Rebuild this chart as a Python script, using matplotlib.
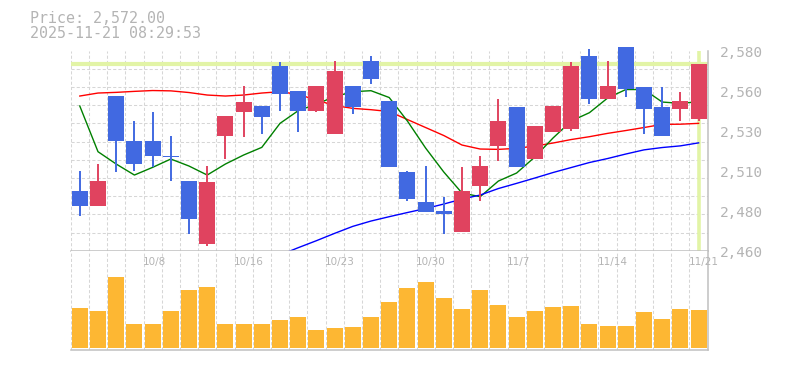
import numpy as np
import matplotlib
matplotlib.use('Agg')
import matplotlib.pyplot as plt
from matplotlib.transforms import ScaledTranslation, blended_transform_factory

W, H = 785, 370
UP = '#e0435f'
DOWN = '#4169e1'
VOL = '#fdb733'
GRID = '#d6d6d6'
BORDER = '#c0c0c0'
TEXT = '#b4b4b4'
NOW = '#e2f4a6'

# trading days (2025)
dates = ['10/2', '10/3', '10/6', '10/7', '10/8', '10/9', '10/10', '10/14', '10/15', '10/16',
         '10/17', '10/20', '10/21', '10/22', '10/23', '10/24', '10/27', '10/28', '10/29', '10/30',
         '10/31', '11/4', '11/5', '11/6', '11/7', '11/10', '11/11', '11/12', '11/13', '11/14',
         '11/17', '11/18', '11/19', '11/20', '11/21']
label_dates = ['10/8', '10/16', '10/23', '10/30', '11/7', '11/14', '11/21']

opens = [2496, 2487, 2553, 2526, 2526, 2517, 2502, 2464, 2529, 2543, 2547, 2571, 2556, 2544, 2530,
         2559, 2574, 2550, 2507, 2489, 2484, 2471, 2499, 2523, 2546, 2515, 2531, 2533, 2577, 2551,
         2582, 2558, 2546, 2545, 2539]
highs = [2508, 2512, 2553, 2538, 2543, 2529, 2502, 2511, 2541, 2559, 2547, 2573, 2556, 2559, 2574,
         2559, 2577, 2550, 2508, 2511, 2492, 2510, 2517, 2551, 2546, 2535, 2547, 2573, 2581, 2574,
         2582, 2558, 2558, 2555, 2572]
lows = [2481, 2487, 2507, 2508, 2510, 2502, 2470, 2463, 2515, 2528, 2530, 2544, 2531, 2543, 2530,
        2542, 2560, 2510, 2490, 2483, 2470, 2471, 2490, 2514, 2510, 2515, 2531, 2532, 2548, 2551,
        2552, 2530, 2529, 2538, 2538]
closes = [2487, 2502, 2526, 2512, 2517, 2516, 2479, 2501, 2541, 2549, 2540, 2554, 2544, 2559, 2568,
          2546, 2563, 2510, 2491, 2483, 2482, 2496, 2511, 2538, 2510, 2535, 2547, 2571, 2551, 2559,
          2557, 2545, 2529, 2550, 2572]
volumes = [397, 367, 707, 237, 237, 367, 577, 607, 237, 237, 237, 277, 307, 177, 197, 207, 307, 457,
           597, 657, 497, 387, 577, 427, 307, 367, 407, 417, 237, 217, 217, 357, 287, 387, 377]

ma5 = [2546.8, 2519.4, 2512.0, 2505.4, 2510.0, 2515.0, 2510.8, 2505.4, 2512.0, 2517.4, 2522.0,
       2536.4, 2544.0, 2548.0, 2552.4, 2555.4, 2556.0, 2551.9, 2537.8, 2521.6, 2507.2, 2494.6,
       2492.4, 2501.8, 2506.6, 2516.2, 2527.6, 2537.8, 2542.8, 2551.6, 2556.7, 2556.7, 2549.2,
       2548.4, 2549.4]
ma25 = [2552.8, 2554.6, 2555.0, 2555.6, 2556.1, 2555.9, 2554.9, 2553.4, 2552.8, 2553.4, 2554.6,
        2555.4, 2553.8, 2550.4, 2547.1, 2545.4, 2544.6, 2543.5, 2538.7, 2533.9, 2529.1, 2523.4,
        2521.0, 2520.8, 2521.4, 2522.8, 2524.6, 2526.7, 2528.4, 2530.4, 2532.1, 2533.9, 2535.8,
        2535.9, 2536.4]
ma75 = [np.nan] * 11 + [2457.4, 2461.8, 2466.0, 2470.4, 2474.6, 2477.8, 2480.4, 2482.9, 2485.3,
                        2488.0, 2491.0, 2493.4, 2497.3, 2500.4, 2503.6, 2506.9, 2509.9, 2512.9,
                        2515.3, 2518.0, 2520.5, 2521.9, 2522.9, 2524.7]

price_now = 2572.0
stamp = '2025-11-21 08:29:53'

x = np.arange(len(dates))
o = np.array(opens, float)
c = np.array(closes, float)
up = c >= o
colors = [UP if u else DOWN for u in up]

fig = plt.figure(figsize=(W / 100, H / 100), dpi=100)
left, right = 70.7, 707.7
ax = fig.add_axes([left / W, (H - 250.7) / H, (right - left) / W, 200 / H])
axv = fig.add_axes([left / W, (H - 350) / H, (right - left) / W, 99.3 / H])

for a in (ax, axv):
    a.set_xlim(-0.5, len(dates) - 0.5)
    a.set_xticks([])
    a.set_xticks(np.arange(-0.5, len(dates), 1), minor=True)
    a.grid(which='minor', axis='x', color=GRID, ls=(0, (3, 2)), lw=0.75)
    a.tick_params(which='both', length=0, labelbottom=False)
    a.set_axisbelow(True)
    a.spines['top'].set_visible(False)
    a.spines['left'].set_visible(False)
    for s in ('bottom', 'right'):
        a.spines[s].set_color(BORDER)
        a.spines[s].set_linewidth(1.1)

# price panel
ax.set_ylim(2460, 2580)
ax.set_yticks(np.linspace(2460, 2580, 12), minor=True)
ax.grid(which='minor', axis='y', color=GRID, ls=(0, (3, 2)), lw=0.75)
yt = np.linspace(2460, 2580, 6)
ax.set_yticks(yt)
ax.set_yticklabels([f'{round(v, -1):,.0f}' for v in yt])
ax.yaxis.tick_right()
ax.tick_params(axis='y', which='major', pad=8.6, labelsize=10.4, labelcolor=TEXT)
for lbl in ax.get_yticklabels():
    lbl.set_family('DejaVu Sans Mono')
    lbl.set_transform(lbl.get_transform() + ScaledTranslation(0, -0.9 / 72, fig.dpi_scale_trans))

ax.axhline(price_now, color=NOW, lw=3, zorder=1)
ax.axvline(x[-1], color=NOW, lw=2.6, zorder=1)

ax.plot(x, ma25, color='#ff0000', lw=1.0, zorder=2, clip_on=False)
ax.plot(x, ma5, color='#008000', lw=1.0, zorder=2, clip_on=False)
ax.plot(x, ma75, color='#0000ff', lw=1.0, zorder=2, clip_on=False)

ax.vlines(x, lows, highs, colors=colors, lw=1.4, zorder=3, clip_on=False)
body = np.maximum(np.abs(c - o), 0.8)
ax.bar(x, body, bottom=np.minimum(o, c), width=0.88, color=colors, zorder=4, clip_on=False)

# volume panel
axv.set_ylim(-23, 970)
axv.set_yticks([])
axv.bar(x, volumes, width=0.88, color=VOL, zorder=2)

tr = blended_transform_factory(axv.transData, axv.transAxes)
for d in label_dates:
    i = dates.index(d)
    axv.text(i - 0.55, 0.883, d, transform=tr, ha='left', va='center',
             fontsize=7.5, color=TEXT, clip_on=False)

fig.text(30 / W, 1 - 18.3 / H, f'Price: {price_now:,.2f}', ha='left', va='center',
         family='DejaVu Sans Mono', fontsize=10.8, color=TEXT)
fig.text(30 / W, 1 - 33.3 / H, stamp, ha='left', va='center',
         family='DejaVu Sans Mono', fontsize=10.8, color=TEXT)

fig.savefig('out.png', dpi=100)
